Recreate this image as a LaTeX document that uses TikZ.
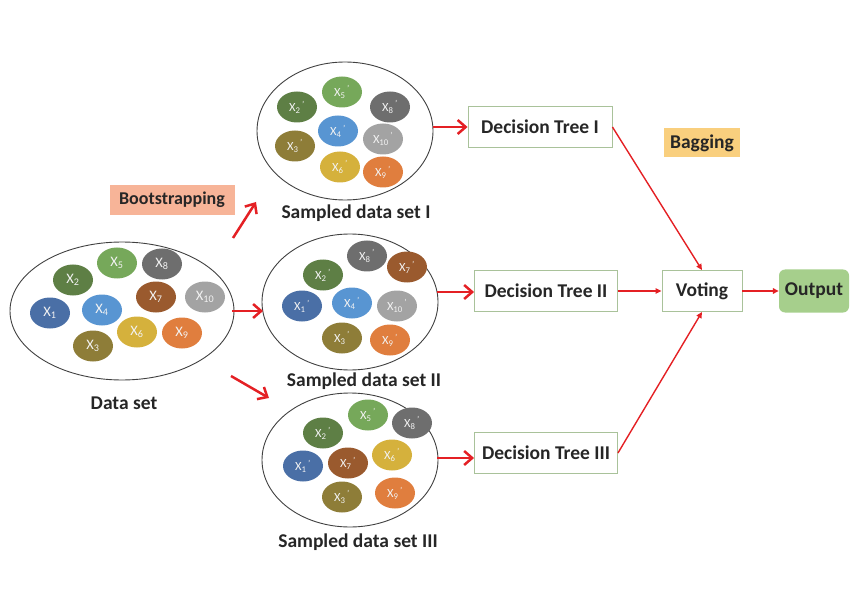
\documentclass[tikz,border=0pt]{standalone}
\usepackage{fontspec}
\setmainfont{Carlito}
\usetikzlibrary{shapes.geometric,arrows.meta}
\definecolor{arrred}{RGB}{228,32,36}
\definecolor{cI}{HTML}{4A6FA6}
\definecolor{cII}{HTML}{5E7F45}
\definecolor{cIII}{HTML}{8E7D38}
\definecolor{cIV}{HTML}{5895D2}
\definecolor{cV}{HTML}{76A85A}
\definecolor{cVI}{HTML}{D5B13C}
\definecolor{cVII}{HTML}{9A5A2E}
\definecolor{cVIII}{HTML}{6E6E6E}
\definecolor{cIX}{HTML}{E07E3E}
\definecolor{cX}{HTML}{A3A3A3}
\definecolor{boxline}{HTML}{A9C29A}
\definecolor{bootfill}{HTML}{F7B498}
\definecolor{bagfill}{HTML}{F9CF7E}
\definecolor{outfill}{HTML}{A6CF8C}
\newcommand\xv[1]{X\textsubscript{#1}}
\newcommand\xp[1]{X\textsubscript{#1}\textsuperscript{\,'}}
\begin{document}
\begin{tikzpicture}[x=1pt,y=-1pt,
  ball/.style={ellipse,minimum width=40pt,minimum height=31pt,inner sep=0pt,text=white!90!gray,font=\fontsize{14.5}{14.5}\selectfont},
  sball/.style={ball,font=\fontsize{12.5}{12.5}\selectfont},
  bigset/.style={ellipse,draw=black!75,line width=0.9pt,inner sep=0pt},
  lbl/.style={font=\bfseries\fontsize{19.5}{19.5}\selectfont,text=black!85},
  dtbox/.style={draw=boxline,line width=0.9pt,fill=white,minimum height=41pt,inner sep=0pt,lbl},
  tagbox/.style={inner sep=0pt,lbl},
  thick arrow/.style={draw=arrred,line width=2.5pt,-{Straight Barb[length=8pt,width=14pt,line width=2.5pt]}},
  thin arrow/.style={draw=arrred,line width=1.4pt,-{Triangle[length=6pt,width=5.5pt]}}
]
\useasboundingbox (0,0) rectangle (850,593);

% big ellipses
\node[bigset,minimum width=224pt,minimum height=138pt] (ds) at (122,311) {};
\node[bigset,minimum width=176pt,minimum height=138pt] (s1) at (345,131) {};
\node[bigset,minimum width=176pt,minimum height=136pt] (s2) at (350,302) {};
\node[bigset,minimum width=176pt,minimum height=134pt] (s3) at (350,460) {};

% labels of sets
\node[lbl] (dsl) at (124,403) {Data set};
\node[lbl] (s1l) at (356,213) {Sampled data set I};
\node[lbl] (s2l) at (364,381) {Sampled data set II};
\node[lbl] (s3l) at (358,542) {Sampled data set III};

% data set balls
\node[ball,fill=cII] (d2) at (73,280) {\xv{2}};
\node[ball,fill=cV] (d5) at (117,263) {\xv{5}};
\node[ball,fill=cVIII] (d8) at (162,264) {\xv{8}};
\node[ball,fill=cVII] (d7) at (156,297) {\xv{7}};
\node[ball,fill=cX] (d10) at (205,297) {\xv{10}};
\node[ball,fill=cI] (d1) at (50,313) {\xv{1}};
\node[ball,fill=cIV] (d4) at (102,310) {\xv{4}};
\node[ball,fill=cVI] (d6) at (137,332) {\xv{6}};
\node[ball,fill=cIX] (d9) at (182,333) {\xv{9}};
\node[ball,fill=cIII] (d3) at (93,346) {\xv{3}};

% sampled set I
\node[sball,fill=cII] (a2) at (297,107) {\xp{2}};
\node[sball,fill=cV] (a5) at (342,92) {\xp{5}};
\node[sball,fill=cVIII] (a8) at (390,107) {\xp{8}};
\node[sball,fill=cIV] (a4) at (338,131) {\xp{4}};
\node[sball,fill=cX] (a10) at (383,139) {\xp{10}};
\node[sball,fill=cIII] (a3) at (295,146) {\xp{3}};
\node[sball,fill=cVI] (a6) at (340,167) {\xp{6}};
\node[sball,fill=cIX] (a9) at (383,172) {\xp{9}};

% sampled set II
\node[sball,fill=cII] (b2) at (323,275) {\xp{2}};
\node[sball,fill=cVIII] (b8) at (367,256) {\xp{8}};
\node[sball,fill=cVII] (b7) at (407,267) {\xp{7}};
\node[sball,fill=cI] (b1) at (302,306) {\xp{1}};
\node[sball,fill=cIV] (b4) at (352,303) {\xp{4}};
\node[sball,fill=cX] (b10) at (397,306) {\xp{10}};
\node[sball,fill=cIII] (b3) at (342,338) {\xp{3}};
\node[sball,fill=cIX] (b9) at (390,340) {\xp{9}};

% sampled set III
\node[sball,fill=cII] (c2) at (323,433) {\xp{2}};
\node[sball,fill=cV] (c5) at (368,415) {\xp{5}};
\node[sball,fill=cVIII] (c8) at (412,423) {\xp{8}};
\node[sball,fill=cI] (c1) at (303,466) {\xp{1}};
\node[sball,fill=cVII] (c7) at (348,463) {\xp{7}};
\node[sball,fill=cVI] (c6) at (392,455) {\xp{6}};
\node[sball,fill=cIII] (c3) at (342,497) {\xp{3}};
\node[sball,fill=cIX] (c9) at (395,493) {\xp{9}};

% tags
\node[tagbox,fill=bootfill,minimum width=125pt,minimum height=30pt,font=\bfseries\fontsize{18}{18}\selectfont] (boot) at (172,200) {Bootstrapping};
\node[tagbox,fill=bagfill,minimum width=76pt,minimum height=29pt] (bag) at (702,143) {Bagging};

% decision trees etc.
\node[dtbox,minimum width=144pt] (t1) at (540,127) {Decision Tree I};
\node[dtbox,minimum width=143pt] (t2) at (546,291) {Decision Tree II};
\node[dtbox,minimum width=143pt] (t3) at (546,453) {Decision Tree III};
\node[dtbox,minimum width=80pt] (vote) at (702,291) {Voting};
\node[lbl,fill=outfill,rounded corners=6pt,minimum width=70pt,minimum height=43pt,inner sep=0pt] (out) at (814,291) {Output};

% connector anchors
\coordinate (q1) at (233,238);
\coordinate (q1e) at (256,202);
\coordinate (q2) at (232,311);
\coordinate (q2e) at (263,311);
\coordinate (q3) at (231,376);
\coordinate (q3e) at (269,398);

\draw[thick arrow] (q1) -- (q1e);
\draw[thick arrow] (q2) -- (q2e);
\draw[thick arrow] (q3) -- (q3e);

\draw[thick arrow] (s1.east |- t1.west) -- (t1.west);
\draw[thick arrow] (437,292) -- (t2.west |- 0,292);
\draw[thick arrow] (437,458) -- (t3.west |- 0,458);

\draw[thin arrow] (t1.east) -- (vote.north);
\draw[thin arrow] (t2.east) -- (vote.west);
\draw[thin arrow] (t3.east) -- (vote.south);
\draw[thin arrow,line width=1.8pt] (vote.east) -- (out.west);
\end{tikzpicture}
\end{document}
